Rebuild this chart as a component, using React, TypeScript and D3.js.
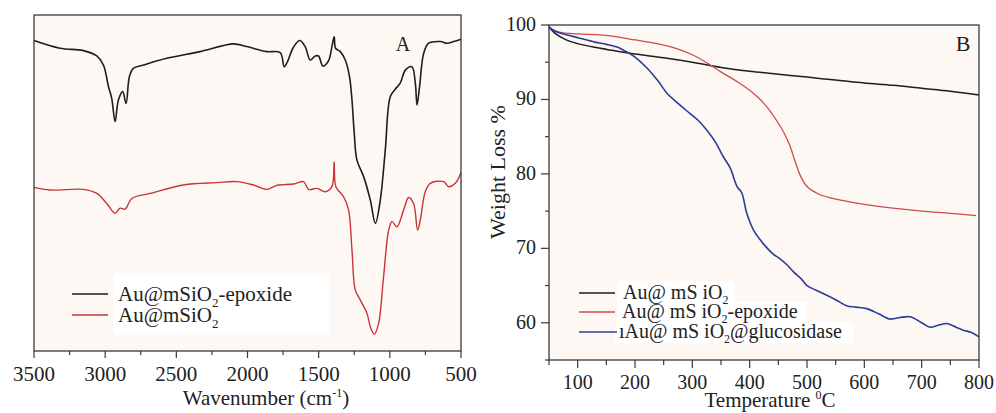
import React from "react";
import * as d3 from "d3";

// ---------- Panel A: FTIR ----------
const ftirTicks = [3500, 3000, 2500, 2000, 1500, 1000, 500];
const epoxideWn = [3500, 3317, 3153, 3059, 3012, 2977, 2954, 2930, 2907, 2877, 2853, 2830, 2802, 2731, 2567, 2333, 2098, 2005, 1864, 1770, 1742, 1719, 1681, 1634, 1595, 1559, 1524, 1501, 1470, 1430, 1407, 1391, 1381, 1348, 1313, 1283, 1266, 1250, 1231, 1184, 1137, 1102, 1067, 1032, 997, 962, 927, 891, 845, 821, 809, 791, 762, 727, 645, 598, 552, 500];
const epoxideT = [92.4, 90.1, 89.4, 87.8, 85.1, 78.7, 75.2, 68.3, 74.7, 77.2, 73.7, 81.6, 84.1, 85.1, 87.1, 89.1, 91.4, 90.6, 89.1, 88.8, 84.6, 86.1, 90.1, 92.4, 90.6, 86.6, 87.8, 87.8, 84.8, 86.4, 90.6, 93.5, 90.1, 89.1, 86.6, 81.6, 74.7, 64.8, 56.8, 51.9, 44.9, 38.0, 44.9, 59.8, 75.7, 77.9, 79.7, 83.6, 84.6, 79.7, 73.2, 78.7, 88.6, 91.6, 92.1, 91.6, 92.1, 92.8];
const bareWn = [3500, 3387, 3153, 3059, 2989, 2930, 2895, 2860, 2813, 2684, 2450, 2216, 2075, 1958, 1864, 1794, 1676, 1606, 1571, 1512, 1454, 1407, 1391, 1379, 1325, 1290, 1266, 1243, 1208, 1161, 1133, 1109, 1079, 1044, 1008, 985, 950, 903, 868, 833, 805, 786, 751, 716, 622, 587, 540, 500];
const bareT = [48.7, 47.9, 48.1, 46.9, 43.9, 41.0, 42.5, 42.2, 45.4, 46.9, 49.4, 50.1, 50.4, 49.4, 48.1, 49.3, 49.7, 50.4, 48.1, 48.4, 47.4, 48.9, 56.3, 48.9, 45.9, 42.0, 30.1, 18.2, 15.2, 11.2, 6.7, 5.0, 8.2, 22.1, 36.0, 38.5, 37.0, 42.0, 45.7, 43.9, 36.0, 39.0, 47.4, 49.9, 50.4, 48.9, 49.9, 53.1];

// ---------- Panel B: TGA ----------
const tgaXTicks = [100, 200, 300, 400, 500, 600, 700, 800];
const tgaYTicks = [60, 70, 80, 90, 100];
const bareTemp = [50, 60, 80, 100, 130, 160, 200, 250, 300, 350, 400, 450, 500, 550, 600, 650, 700, 750, 800];
const bareWeight = [99.8, 98.9, 98.0, 97.5, 97.0, 96.6, 96.1, 95.6, 95.0, 94.3, 93.8, 93.4, 93.0, 92.6, 92.2, 91.9, 91.5, 91.1, 90.6];
const epoxTemp = [50, 70, 100, 150, 200, 250, 270, 300, 330, 350, 380, 410, 430, 450, 460, 470, 480, 490, 500, 520, 550, 600, 650, 700, 750, 795];
const epoxWeight = [99.6, 99.0, 98.8, 98.6, 98.0, 97.3, 96.9, 96.0, 94.7, 93.7, 92.3, 90.6, 89.0, 86.8, 85.5, 83.8, 81.5, 79.5, 78.3, 77.3, 76.6, 75.9, 75.4, 75.0, 74.7, 74.4];
const glucTemp = [50, 60, 80, 100, 130, 150, 170, 180, 190, 200, 220, 240, 256, 270, 296, 310, 325, 340, 354, 366, 378, 386, 395, 407, 424, 440, 453, 465, 477, 490, 500, 515, 529, 550, 569, 585, 604, 625, 645, 662, 680, 700, 715, 730, 744, 760, 773, 787, 800];
const glucWeight = [99.7, 99.2, 98.7, 98.3, 97.7, 97.4, 97.0, 96.6, 96.2, 95.7, 94.3, 92.5, 90.8, 89.8, 88.1, 87.2, 85.9, 84.3, 82.3, 80.8, 78.3, 77.5, 74.7, 72.4, 70.6, 69.3, 68.6, 67.8, 66.8, 65.9, 65.0, 64.4, 63.9, 63.1, 62.3, 62.1, 61.9, 61.2, 60.5, 60.7, 60.8, 60.0, 59.4, 59.7, 59.9, 59.4, 59.0, 58.7, 58.1];

const FONT = "Liberation Serif";
const AXIS = "#3a3a3a";
const BG = "#fdf8f3";
const INK = "#222";

function zip(xs: number[], ys: number[]): [number, number][] {
  return xs.map((x, i) => [x, ys[i]]);
}

function T(props: any) {
  const { children, style, ...rest } = props;
  return (
    <text fontFamily={FONT} fill={INK} style={{ fontFamily: FONT }} {...rest}>
      {children}
    </text>
  );
}

export default function App() {
  // Panel A scales
  const ax = d3.scaleLinear().domain([3500, 500]).range([34, 461]);
  const ay = d3.scaleLinear().domain([0, 100]).range([351, 15]);
  const aLine = d3.line<[number, number]>().x((d) => ax(d[0])).y((d) => ay(d[1])).curve(d3.curveCatmullRom.alpha(0.5));
  const aMinor = d3.range(3500, 499, -250);

  // Panel B scales
  const bx = d3.scaleLinear().domain([50, 800]).range([549, 979]);
  const by = d3.scaleLinear().domain([55, 100]).range([360, 25]);
  const bLine = d3.line<[number, number]>().x((d) => bx(d[0])).y((d) => by(d[1])).curve(d3.curveCatmullRom.alpha(0.5));
  const bXMinor = d3.range(50, 801, 50);
  const bYMinor = d3.range(55, 101, 5);

  return (
    <svg width={996} height={413} style={{ position: "absolute", left: 0, top: 0, background: "#ffffff" }}>
      {/* ===== Panel A ===== */}
      <rect x={34} y={15} width={427} height={336} fill={BG} />
      <path d={aLine(zip(bareWn, bareT)) || ""} fill="none" stroke="#c8343a" strokeWidth={1.4} />
      <path d={aLine(zip(epoxideWn, epoxideT)) || ""} fill="none" stroke="#1e1e1e" strokeWidth={1.6} />
      <rect x={34} y={15} width={427} height={336} fill="none" stroke={AXIS} strokeWidth={1.3} />
      {aMinor.map((v) => {
        const major = v % 500 === 0;
        return <line key={"am" + v} x1={ax(v)} x2={ax(v)} y1={351} y2={351 + (major ? 7 : 4)} stroke={AXIS} strokeWidth={1.2} />;
      })}
      {ftirTicks.map((v) => (
        <T key={"at" + v} x={ax(v)} y={381} textAnchor="middle" fontSize={21}>{v}</T>
      ))}
      <T x={266} y={405} textAnchor="middle" fontSize={21}>
        Wavenumber (cm<tspan fontSize={12} dy={-8}>-1</tspan><tspan dy={8}>)</tspan>
      </T>
      <T x={403} y={51} textAnchor="middle" fontSize={20}>A</T>
      {/* legend A */}
      <rect x={113} y={273} width={216} height={62} fill="#ffffff" />
      <line x1={72} x2={108} y1={294} y2={294} stroke="#1e1e1e" strokeWidth={1.6} />
      <line x1={72} x2={108} y1={315} y2={315} stroke="#c8343a" strokeWidth={1.4} />
      <T x={118} y={301} fontSize={21}>
        Au@mSiO<tspan fontSize={13} dy={6}>2</tspan><tspan dy={-6}>-epoxide</tspan>
      </T>
      <T x={118} y={322} fontSize={21}>
        Au@mSiO<tspan fontSize={13} dy={6}>2</tspan>
      </T>

      {/* ===== Panel B ===== */}
      <rect x={549} y={25} width={430} height={335} fill={BG} />
      <path d={bLine(zip(bareTemp, bareWeight)) || ""} fill="none" stroke="#1e1e1e" strokeWidth={1.5} />
      <path d={bLine(zip(epoxTemp, epoxWeight)) || ""} fill="none" stroke="#d04a4c" strokeWidth={1.3} />
      <path d={bLine(zip(glucTemp, glucWeight)) || ""} fill="none" stroke="#2c3c98" strokeWidth={1.6} />
      <rect x={549} y={25} width={430} height={335} fill="none" stroke={AXIS} strokeWidth={1.3} />
      {bXMinor.map((v) => {
        const major = v % 100 === 0;
        return <line key={"bxm" + v} x1={bx(v)} x2={bx(v)} y1={360} y2={360 + (major ? 8 : 5)} stroke={AXIS} strokeWidth={1.2} />;
      })}
      {bYMinor.map((v) => {
        const major = v % 10 === 0;
        return <line key={"bym" + v} x1={549} x2={549 - (major ? 8 : 4)} y1={by(v)} y2={by(v)} stroke={AXIS} strokeWidth={1.2} />;
      })}
      {tgaXTicks.map((v) => (
        <T key={"bxt" + v} x={bx(v)} y={389} textAnchor="middle" fontSize={20}>{v}</T>
      ))}
      {tgaYTicks.map((v) => (
        <T key={"byt" + v} x={536} y={by(v) + 6} textAnchor="end" fontSize={20}>{v}</T>
      ))}
      <T x={770} y={407} textAnchor="middle" fontSize={21}>
        Temperature <tspan fontSize={12} dy={-8}>0</tspan><tspan dy={8}>C</tspan>
      </T>
      <T transform="translate(505,172) rotate(-90)" textAnchor="middle" fontSize={22}>Weight Loss %</T>
      <T x={963} y={51} textAnchor="middle" fontSize={22}>B</T>
      {/* legend B */}
      <rect x={617} y={281} width={118} height={21} fill="#ffffff" />
      <rect x={617} y={302} width={190} height={20} fill="#ffffff" />
      <rect x={615} y={322} width={238} height={21} fill="#ffffff" />
      <line x1={579} x2={615} y1={293} y2={293} stroke="#1e1e1e" strokeWidth={1.5} />
      <line x1={579} x2={615} y1={312} y2={312} stroke="#d04a4c" strokeWidth={1.3} />
      <line x1={579} x2={617} y1={332} y2={332} stroke="#2c3c98" strokeWidth={1.6} />
      <T x={623} y={299} fontSize={20}>
        Au@ mS iO<tspan fontSize={12} dy={5}>2</tspan>
      </T>
      <T x={622} y={318} fontSize={20}>
        Au@ mS iO<tspan fontSize={12} dy={5}>2</tspan><tspan dy={-5}>-epoxide</tspan>
      </T>
      <T x={619} y={338} fontSize={20}>
        ıAu@ mS iO<tspan fontSize={12} dy={5}>2</tspan><tspan dy={-5}>@glucosidase</tspan>
      </T>
    </svg>
  );
}
